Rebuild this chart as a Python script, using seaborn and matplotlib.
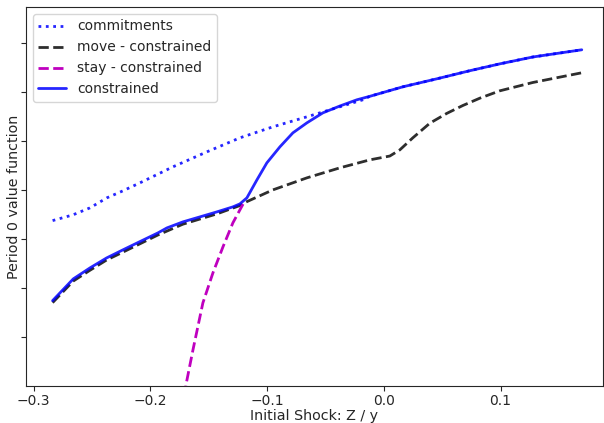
import numpy as np
import pandas as pd
import seaborn as sns
import matplotlib.pyplot as plt

# Values (y in arbitrary units; tick labels hidden)
commit_x = [-0.2837, -0.2663, -0.2517, -0.2372, -0.2235, -0.2089, -0.1807, -0.1515,
            -0.1233, -0.0950, -0.0659, -0.0377, -0.0180, -0.0120, 0.0163, 0.0454,
            0.0736, 0.0993, 0.1276, 0.1695]
commit_y = [3.373, 3.490, 3.633, 3.837, 3.980, 4.143, 4.469, 4.776,
            5.061, 5.286, 5.490, 5.694, 5.837, 5.908, 6.102, 6.265,
            6.430, 6.570, 6.710, 6.857]

move_x = [-0.2837, -0.2660, -0.2517, -0.2374, -0.2235, -0.2089, -0.1935, -0.1721,
          -0.1430, -0.1233, -0.1173, -0.0950, -0.0659, -0.0377, -0.0120, 0.0051,
          0.0137, 0.0248, 0.0394, 0.0539, 0.0676, 0.0822, 0.0993, 0.1276, 0.1695]
move_y = [1.700, 2.140, 2.360, 2.570, 2.730, 2.900, 3.080, 3.300,
          3.510, 3.680, 3.760, 4.000, 4.245, 4.449, 4.612, 4.690,
          4.816, 5.061, 5.360, 5.560, 5.720, 5.870, 6.020, 6.190, 6.388]

stay_x = [-0.1720, -0.1695, -0.1635, -0.1550, -0.1464, -0.1378, -0.1293, -0.1190]
stay_y = [-0.500, 0.020, 0.735, 1.694, 2.306, 2.837, 3.327, 3.780]

constr_x = [-0.2837, -0.2660, -0.2517, -0.2374, -0.2235, -0.2089, -0.1935, -0.1858,
            -0.1721, -0.1575, -0.1430, -0.1293, -0.1233, -0.1173, -0.1087, -0.1002,
            -0.0890, -0.0779, -0.0659, -0.0522, -0.0377, -0.0231, -0.0120, 0.0163,
            0.0454, 0.0736, 0.0993, 0.1276, 0.1695]
constr_y = [1.741, 2.184, 2.408, 2.612, 2.776, 2.945, 3.122, 3.224,
            3.347, 3.449, 3.551, 3.653, 3.714, 3.837, 4.204, 4.551,
            4.878, 5.163, 5.367, 5.571, 5.710, 5.837, 5.908, 6.102,
            6.265, 6.430, 6.570, 6.710, 6.857]

sns.set_style("ticks")

fig = plt.figure(figsize=(6.04, 4.23), dpi=100)
ax = fig.add_axes([0.043, 0.0875, 0.955, 0.896])

sns.lineplot(x=commit_x, y=commit_y, ax=ax, color='b', linestyle=':', lw=2,
             alpha=0.85, sort=False, label='commitments')
sns.lineplot(x=move_x, y=move_y, ax=ax, color='k', linestyle='--', lw=2,
             alpha=0.82, sort=False, label='move - constrained')
sns.lineplot(x=stay_x, y=stay_y, ax=ax, color='m', linestyle='--', lw=2,
             sort=False, label='stay - constrained')
sns.lineplot(x=constr_x, y=constr_y, ax=ax, color='b', linestyle='-', lw=2,
             alpha=0.85, sort=False, label='constrained')

ax.set_xlim(-0.3065, 0.1875)
ax.set_ylim(0, 7.73)
ax.set_xticks([-0.3, -0.2, -0.1, 0.0, 0.1])
ax.set_yticks(range(1, 8))
ax.set_yticklabels([])
ax.tick_params(labelsize=10, length=3.5, width=0.8, pad=2.5)
ax.set_xlabel('Initial Shock: Z / y', fontsize=10.3, labelpad=0.5)
ax.set_ylabel('Period 0 value function', fontsize=10.3)
ax.yaxis.set_label_coords(-0.009, 0.5)
ax.legend(loc='upper left', fontsize=10)

fig.savefig('out.png', dpi=100)
